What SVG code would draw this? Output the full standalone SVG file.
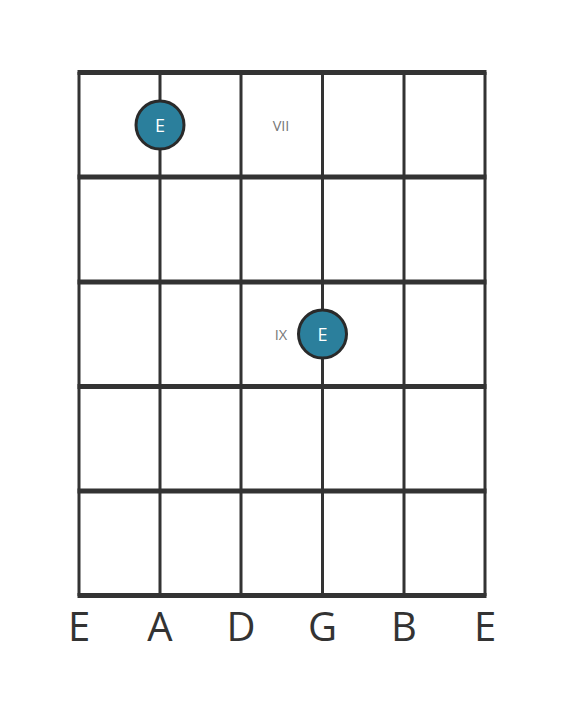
<svg xmlns="http://www.w3.org/2000/svg" width="566" height="711" viewBox="0 0 566 711">
<style>
.fret{stroke:#333;stroke-width:5;}
.str{stroke:#333;stroke-width:3;}
.dot{fill:#2b7f9c;stroke:#2a2a2a;stroke-width:3;}
.dl{fill:#fff;font-family:"Open Sans",sans-serif;font-size:18px;text-anchor:middle;}
.iv{fill:#777;font-family:"Open Sans",sans-serif;font-size:14.5px;text-anchor:middle;}
.sl{fill:#333;font-family:"Open Sans",sans-serif;font-size:40px;text-anchor:middle;}
</style>
<rect width="566" height="711" fill="#fff"/>
<g id="connectors">
<line class="str" x1="79" y1="72" x2="79" y2="596"/>
<line class="str" x1="160" y1="72" x2="160" y2="596"/>
<line class="str" x1="241" y1="72" x2="241" y2="596"/>
<line class="str" x1="322.5" y1="72" x2="322.5" y2="596"/>
<line class="str" x1="404" y1="72" x2="404" y2="596"/>
<line class="str" x1="485" y1="72" x2="485" y2="596"/>
<line class="fret" x1="77.5" y1="72.5" x2="486.5" y2="72.5"/>
<line class="fret" x1="77.5" y1="177" x2="486.5" y2="177"/>
<line class="fret" x1="77.5" y1="282" x2="486.5" y2="282"/>
<line class="fret" x1="77.5" y1="386.5" x2="486.5" y2="386.5"/>
<line class="fret" x1="77.5" y1="491" x2="486.5" y2="491"/>
<line class="fret" x1="77.5" y1="595.5" x2="486.5" y2="595.5"/>
</g>
<g id="note1">
<circle class="dot" cx="160" cy="125" r="24"/>
<text class="dl" x="160" y="131.5">E</text>
</g>
<g id="note2">
<circle class="dot" cx="322.5" cy="334" r="24"/>
<text class="dl" x="322.5" y="340.5">E</text>
</g>
<g id="interval1"><text class="iv" x="281" y="131">VII</text></g>
<g id="interval2"><text class="iv" x="281" y="340">IX</text></g>
<g id="strings">
<text class="sl" x="79" y="641">E</text>
<text class="sl" x="160" y="641">A</text>
<text class="sl" x="241" y="641">D</text>
<text class="sl" x="322.5" y="641">G</text>
<text class="sl" x="404" y="641">B</text>
<text class="sl" x="485" y="641">E</text>
</g>
</svg>
